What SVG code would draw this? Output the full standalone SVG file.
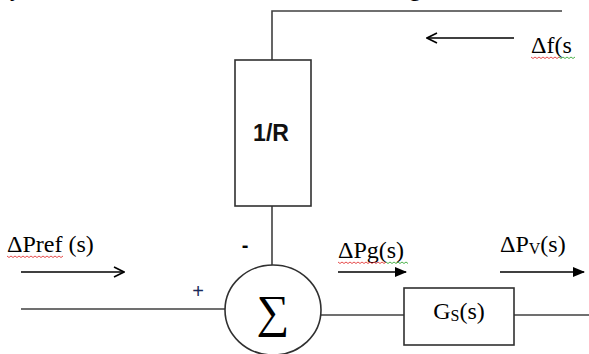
<svg xmlns="http://www.w3.org/2000/svg" width="589" height="354" viewBox="0 0 589 354">
<style>
.ln{stroke:#404040;stroke-width:1.6;fill:none}
.ar{stroke:#000;stroke-width:1.4;fill:none}
.bx{fill:#fff;stroke:#303030;stroke-width:1.6}
.t{font-family:"Liberation Serif","Times New Roman",serif;font-size:24px;fill:#000}
.sub{font-size:16px}
.c{font-family:"Liberation Sans","Noto Sans",Arial,sans-serif;fill:#000}
.red{stroke:#e02020;stroke-width:0.8;fill:none}
.grn{stroke:#20a020;stroke-width:0.8;fill:none}
</style>
<defs>
<marker id="fh" markerWidth="12" markerHeight="10" refX="11" refY="5" orient="auto" markerUnits="userSpaceOnUse">
<path d="M0,0 L12,5 L0,10 Z" fill="#000"/>
</marker>
<marker id="oh" markerWidth="12" markerHeight="12" refX="11" refY="6" orient="auto" markerUnits="userSpaceOnUse">
<path d="M1,1 L11,6 L1,11" fill="none" stroke="#000" stroke-width="1.6"/>
</marker>
</defs>

<text class="t" x="10" y="-4">y</text>
<text class="t" x="409" y="-4">g</text>

<g id="connectors">
<path class="ln" d="M562,11 H272 V60"/>
<path class="ln" d="M272,206 V266"/>
<path class="ln" d="M21,309 H225"/>
<path class="ln" d="M321,315 H404"/>
<path class="ln" d="M514,315 H589"/>
<line class="ar" x1="514" y1="38" x2="427" y2="38" marker-end="url(#oh)"/>
<line class="ar" x1="21" y1="272" x2="124" y2="272" marker-end="url(#oh)"/>
<line class="ar" x1="338" y1="272" x2="406" y2="272" marker-end="url(#fh)"/>
<line class="ar" x1="500" y1="272" x2="584" y2="272" marker-end="url(#fh)"/>
</g>

<g id="node-R">
<rect class="bx" x="235" y="60" width="76" height="146"/>
<text class="c" x="271" y="141" style="font-size:23px;font-weight:bold;fill:#111" text-anchor="middle">1/R</text>
</g>

<g id="node-sum">
<ellipse class="bx" cx="273" cy="310" rx="48" ry="45"/>
<text x="273" y="327" style="font-family:'Liberation Serif',serif;font-size:46px" text-anchor="middle">∑</text>
<text class="c" x="245" y="252" style="font-size:20px;font-weight:bold" text-anchor="middle">-</text>
<text class="c" x="198" y="298" style="font-size:20px;fill:#1a2a5a" text-anchor="middle">+</text>
</g>

<g id="node-Gs">
<rect class="bx" x="404" y="288" width="110" height="57"/>
<text class="t" x="459" y="319" text-anchor="middle">G<tspan class="sub" dy="2">S</tspan><tspan dy="-2">(s)</tspan></text>
</g>

<g id="labels">
<text class="t" x="7" y="252">ΔPref (s)</text>
<path class="red" d="M7,256 l2,1.5 2,-1.5 2,1.5 2,-1.5 2,1.5 2,-1.5 2,1.5 2,-1.5 2,1.5 2,-1.5 2,1.5 2,-1.5 2,1.5 2,-1.5 2,1.5 2,-1.5 2,1.5 2,-1.5 2,1.5 2,-1.5 2,1.5 2,-1.5 2,1.5 2,-1.5 2,1.5 2,-1.5 2,1.5 2,-1.5"/>
<text class="t" x="338" y="258">ΔPg(s)</text>
<path class="red" d="M338,262 l2,1.5 2,-1.5 2,1.5 2,-1.5 2,1.5 2,-1.5 2,1.5 2,-1.5 2,1.5 2,-1.5 2,1.5 2,-1.5 2,1.5 2,-1.5 2,1.5 2,-1.5 2,1.5 2,-1.5 2,1.5 2,-1.5 2,1.5 2,-1.5 2,1.5 2,-1.5"/>
<path class="grn" d="M386,262 l2,1.5 2,-1.5 2,1.5 2,-1.5 2,1.5 2,-1.5 2,1.5 2,-1.5 2,1.5 2,-1.5 2,1.5"/>
<text class="t" x="500" y="252">ΔP<tspan class="sub" dy="2">V</tspan><tspan dy="-2">(s)</tspan></text>
<text class="t" x="531" y="53">Δf(s</text>
<path class="red" d="M531,57 l2,1.5 2,-1.5 2,1.5 2,-1.5 2,1.5 2,-1.5 2,1.5 2,-1.5 2,1.5 2,-1.5 2,1.5 2,-1.5 2,1.5 2,-1.5"/>
<path class="grn" d="M559,57 l2,1.5 2,-1.5 2,1.5 2,-1.5 2,1.5 2,-1.5 2,1.5 2,-1.5"/>
</g>
</svg>
